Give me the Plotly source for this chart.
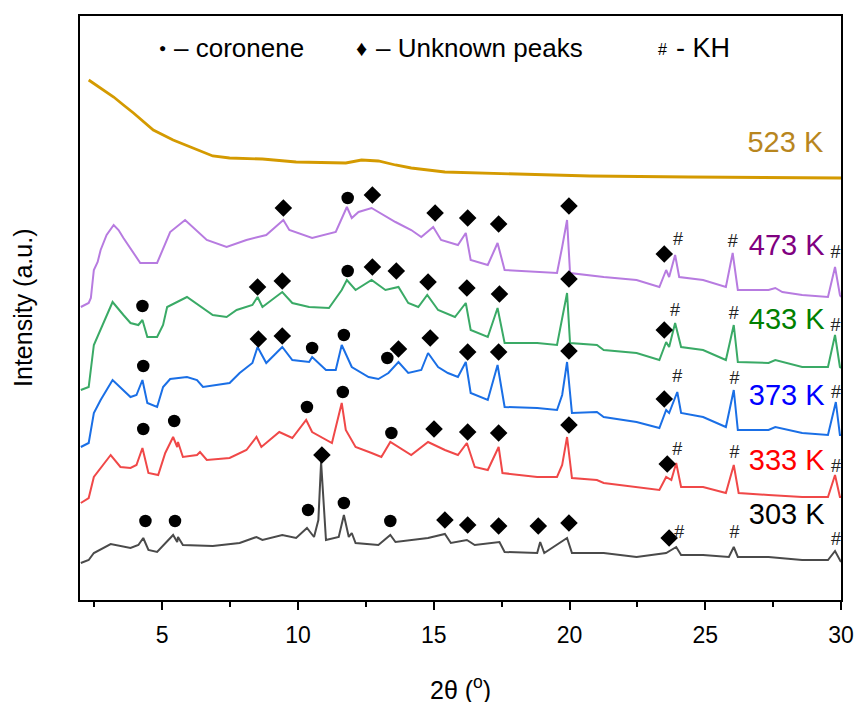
import plotly.graph_objects as go

# ---- XRD patterns (2θ in degrees, stacked intensity in a.u.) ----
tt_303 = [2.0, 2.29, 2.48, 3.10, 3.83, 4.12, 4.30, 4.49, 4.81, 5.40, 5.55, 5.58, 5.76, 6.86, 7.85,
          8.47, 8.69, 9.42, 9.93, 10.33, 10.59, 10.75, 10.85, 11.03, 11.50, 11.69, 11.87, 11.98,
          12.12, 12.96, 13.40, 13.59, 14.79, 15.41, 15.63, 16.22, 16.51, 17.42, 17.61, 18.81,
          18.92, 19.07, 19.91, 20.09, 21.26, 22.47, 23.56, 23.93, 24.11, 24.92, 25.87, 26.05,
          26.20, 27.33, 28.57, 29.52, 29.78, 30.0]
i_303 = [37, 40, 47, 56, 52, 55, 62, 50, 48, 65, 58, 63, 55, 54, 57,
         63, 60, 65, 62, 72, 63, 80, 138, 60, 63, 85, 63, 67,
         57, 55, 65, 58, 62, 66, 57, 60, 55, 58, 48, 47,
         58, 47, 62, 47, 47, 43, 47, 53, 45, 45, 43, 53,
         43, 43, 40, 40, 49, 38]

tt_333 = [2.0, 2.29, 2.48, 3.10, 3.46, 3.83, 4.05, 4.27, 4.49, 4.85, 5.11, 5.40, 5.55, 5.58, 5.76,
          6.28, 6.39, 6.64, 7.48, 8.10, 8.47, 8.65, 9.31, 9.79, 10.30, 10.52, 11.25, 11.61, 11.76,
          12.12, 12.71, 13.07, 13.40, 13.70, 14.17, 14.79, 15.41, 15.89, 16.22, 16.51, 16.99,
          17.39, 17.53, 18.81, 19.54, 19.73, 19.91, 20.09, 21.01, 21.26, 22.47, 23.31, 23.56,
          23.75, 23.93, 24.11, 24.92, 25.76, 26.05, 26.23, 27.33, 28.57, 29.52, 29.78, 29.96, 30.0]
i_333 = [97, 102, 123, 145, 133, 132, 135, 152, 127, 125, 147, 163, 153, 158, 143,
         145, 148, 140, 142, 150, 163, 153, 168, 162, 180, 168, 157, 197, 170,
         153, 147, 143, 158, 153, 145, 158, 150, 145, 157, 133, 130,
         153, 127, 123, 123, 135, 163, 122, 120, 117, 113, 110, 123,
         120, 137, 113, 113, 107, 135, 107, 105, 103, 103, 125, 103, 103]

tt_373 = [2.0, 2.29, 2.48, 2.73, 3.17, 3.57, 3.83, 4.05, 4.27, 4.45, 4.81, 5.03, 5.29, 5.91, 6.28,
          6.50, 7.48, 7.85, 8.32, 8.51, 8.83, 9.42, 9.79, 10.41, 10.52, 11.03, 11.39, 11.61,
          11.98, 12.60, 12.96, 13.33, 13.70, 14.06, 14.54, 14.79, 15.16, 15.52, 15.89, 16.18,
          16.36, 16.99, 17.35, 17.61, 18.81, 19.54, 19.73, 19.91, 20.09, 21.01, 21.26, 22.47,
          23.31, 23.56, 23.67, 23.97, 24.11, 24.92, 25.76, 26.05, 26.20, 27.33, 27.58, 28.57,
          29.52, 29.81, 29.96, 30.0]
i_373 = [153, 157, 187, 200, 220, 210, 203, 205, 220, 197, 193, 213, 221, 223, 220,
         213, 217, 227, 237, 253, 237, 253, 240, 238, 243, 230, 230, 255,
         233, 223, 221, 227, 238, 227, 230, 247, 233, 227, 223, 238,
         207, 200, 235, 193, 192, 190, 205, 238, 187, 188, 183, 178,
         172, 190, 187, 208, 187, 183, 173, 210, 170, 170, 173, 167,
         165, 198, 165, 165]

tt_433 = [2.0, 2.29, 2.48, 2.73, 3.17, 3.57, 3.83, 4.12, 4.27, 4.45, 4.81, 5.03, 5.18, 5.91, 6.86,
          7.37, 7.74, 8.32, 8.51, 8.69, 9.42, 9.79, 10.41, 11.14, 11.61, 11.80, 12.12, 12.71,
          13.22, 13.70, 14.06, 14.43, 14.76, 15.16, 15.78, 16.18, 16.36, 16.99, 17.35, 17.61,
          18.81, 19.54, 19.73, 19.91, 20.02, 21.01, 21.26, 22.47, 23.31, 23.56, 23.67, 23.89,
          24.11, 24.92, 25.76, 26.05, 26.20, 27.33, 27.58, 28.57, 29.52, 29.78, 29.96, 30.0]
i_433 = [210, 213, 255, 270, 298, 285, 277, 275, 280, 263, 263, 275, 293, 303, 285,
         283, 290, 295, 303, 293, 308, 297, 293, 292, 310, 320, 310, 320,
         310, 313, 297, 293, 305, 290, 283, 297, 270, 263, 292, 257,
         257, 255, 280, 307, 257, 255, 250, 247, 240, 258, 253, 277,
         253, 250, 240, 275, 238, 237, 240, 233, 233, 265, 233, 232]

tt_473 = [2.0, 2.29, 2.37, 2.48, 2.62, 2.73, 2.95, 3.21, 3.39, 3.57, 4.19, 4.81, 5.29, 5.84, 6.64,
          7.37, 8.10, 8.83, 9.46, 9.68, 10.52, 11.39, 11.80, 11.98, 12.23, 12.71, 13.59, 14.17,
          14.54, 14.98, 15.27, 15.89, 16.18, 16.36, 16.99, 17.35, 17.61, 18.81, 19.54, 19.73,
          19.91, 20.02, 21.26, 22.47, 23.31, 23.56, 23.67, 23.89, 24.04, 24.92, 25.76, 26.01,
          26.20, 27.33, 27.58, 27.84, 28.57, 29.52, 29.78, 29.96, 30.0]
i_473 = [293, 297, 302, 330, 338, 350, 365, 375, 370, 362, 337, 337, 368, 380, 360,
         353, 360, 365, 380, 370, 362, 368, 393, 382, 388, 392, 378, 370,
         363, 373, 360, 355, 367, 340, 335, 357, 330, 328, 327, 353,
         380, 327, 323, 320, 313, 330, 323, 345, 323, 320, 313, 347,
         310, 310, 312, 308, 305, 303, 333, 305, 303]

tt_523 = [2.29, 2.73, 3.21, 3.57, 3.94, 4.67, 5.40, 6.13, 6.86, 7.48, 8.69, 9.93, 11.14, 11.76,
          12.34, 12.96, 13.59, 14.17, 15.41, 16.62, 18.34, 20.75, 24.40, 28.06, 30.0]
i_523 = [520, 512, 503, 495, 487, 470, 460, 452, 444, 442, 441, 438, 437, 437,
         440, 439, 435, 432, 428, 427, 426, 424, 423, 422, 422]

# ---- peak assignments ----
coronene_tt = [4.27, 4.30, 4.30, 5.44, 10.33, 11.65, 13.44, 11.83, 11.83, 10.52, 11.69, 13.29,
               4.38, 5.47, 10.37, 11.69, 13.40]
coronene_i = [294, 234, 171, 179, 193, 208, 167, 402, 329, 252, 265, 242,
              79, 79, 90, 97, 79]

unknown_tt = [9.46, 12.74, 15.05, 16.25, 17.39, 19.98, 23.49,
              8.51, 9.42, 12.74, 13.62, 14.79, 16.22, 17.42, 19.98, 23.49,
              8.54, 9.42, 13.70, 14.87, 16.25, 17.39, 19.98, 23.49,
              15.01, 16.25, 17.39, 19.98, 23.60,
              10.88, 15.41, 16.25, 17.39, 18.85, 19.98, 23.67]
unknown_i = [392, 405, 387, 382, 376, 394, 346,
             313, 319, 333, 329, 318, 312, 306, 321, 270,
             261, 264, 251, 262, 248, 248, 249, 201,
             171, 168, 167, 175, 136,
             145, 80, 75, 74, 74, 77, 62]

kh_tt = [24.00, 26.01, 29.80, 23.89, 26.05, 29.80, 23.97, 26.08, 29.82,
         23.97, 26.08, 29.82, 24.04, 26.08, 29.82]
kh_i = [360, 358, 347, 289, 286, 274, 223, 221, 207,
        150, 147, 133, 67, 67, 60]

# ---- temperature labels ----
temp_text = ["523 K", "473 K", "433 K", "373 K", "333 K", "303 K"]
temp_tt = [27.95, 28.0, 28.0, 28.0, 28.0, 28.0]
temp_i = [455, 352, 278, 202, 137, 83]
temp_colors = ["#B8861E", "#800080", "#008000", "#0000FF", "#FF0000", "#000000"]

FONT = "Liberation Sans, Arial, sans-serif"

series = [
    (tt_303, i_303, "#4A4A4A", 2.0),
    (tt_333, i_333, "#F04848", 2.0),
    (tt_373, i_373, "#1A6FE6", 2.0),
    (tt_433, i_433, "#3AAA66", 2.0),
    (tt_473, i_473, "#B77BE0", 2.0),
    (tt_523, i_523, "#D49A00", 2.8),
]

fig = go.Figure()
for tt, ii, col, w in series:
    fig.add_trace(go.Scatter(x=tt, y=ii, mode="lines",
                             line=dict(color=col, width=w), showlegend=False))

fig.add_trace(go.Scatter(x=coronene_tt, y=coronene_i, mode="markers",
                         marker=dict(symbol="circle", size=12.5, color="black"),
                         showlegend=False))
fig.add_trace(go.Scatter(x=unknown_tt, y=unknown_i, mode="markers",
                         marker=dict(symbol="diamond", size=13.5, color="black"),
                         showlegend=False))
fig.add_trace(go.Scatter(x=kh_tt, y=kh_i, mode="text", text=["#"] * len(kh_tt),
                         textfont=dict(family=FONT, size=18, color="#222222"),
                         showlegend=False))
fig.add_trace(go.Scatter(x=temp_tt, y=temp_i, mode="text", text=temp_text,
                         textfont=dict(family=FONT, size=29, color=temp_colors),
                         showlegend=False))

annotations = [
    # key along the top of the frame
    dict(x=0.108, y=0.945, text="●", font=dict(size=12)),
    dict(x=0.121, y=0.945, text="– coronene", xanchor="left", font=dict(size=26)),
    dict(x=0.370, y=0.945, text="♦", font=dict(size=22)),
    dict(x=0.386, y=0.945, text="– Unknown peaks", xanchor="left", font=dict(size=26)),
    dict(x=0.766, y=0.943, text="#", font=dict(size=16)),
    dict(x=0.781, y=0.945, text="- KH", xanchor="left", font=dict(size=27)),
    # axis titles
    dict(x=0.5, y=-0.151, text="2θ (<sup>o</sup>)", font=dict(size=25), yanchor="middle"),
    dict(x=-0.075, y=0.5, text="Intensity (a.u.)", textangle=-90, font=dict(size=25)),
]
for a in annotations:
    a.setdefault("xanchor", "center")
    a.setdefault("yanchor", "middle")
    a["xref"] = "paper"
    a["yref"] = "paper"
    a["showarrow"] = False
    a["font"] = dict(family=FONT, color="black", **a["font"])
fig.update_layout(annotations=annotations)

fig.update_layout(
    width=866, height=702,
    margin=dict(l=80, r=18, t=16, b=102),
    paper_bgcolor="white", plot_bgcolor="white",
    font=dict(family=FONT, color="black"),
    xaxis=dict(range=[1.97, 30.0], tick0=0, dtick=5, ticks="outside", ticklen=8, tickwidth=1.5,
               tickcolor="black", showline=True, linecolor="black", linewidth=1.5, mirror=True,
               showgrid=False, zeroline=False, tickfont=dict(size=23, family=FONT),
               ticklabelstandoff=6,
               minor=dict(dtick=2.5, tick0=0, ticks="outside", ticklen=5, tickwidth=1.5,
                          tickcolor="black", showgrid=False)),
    yaxis=dict(range=[0, 584], showticklabels=False, ticks="", showline=True,
               linecolor="black", linewidth=1.5, mirror=True, showgrid=False, zeroline=False),
)

fig.write_html("out.html")
